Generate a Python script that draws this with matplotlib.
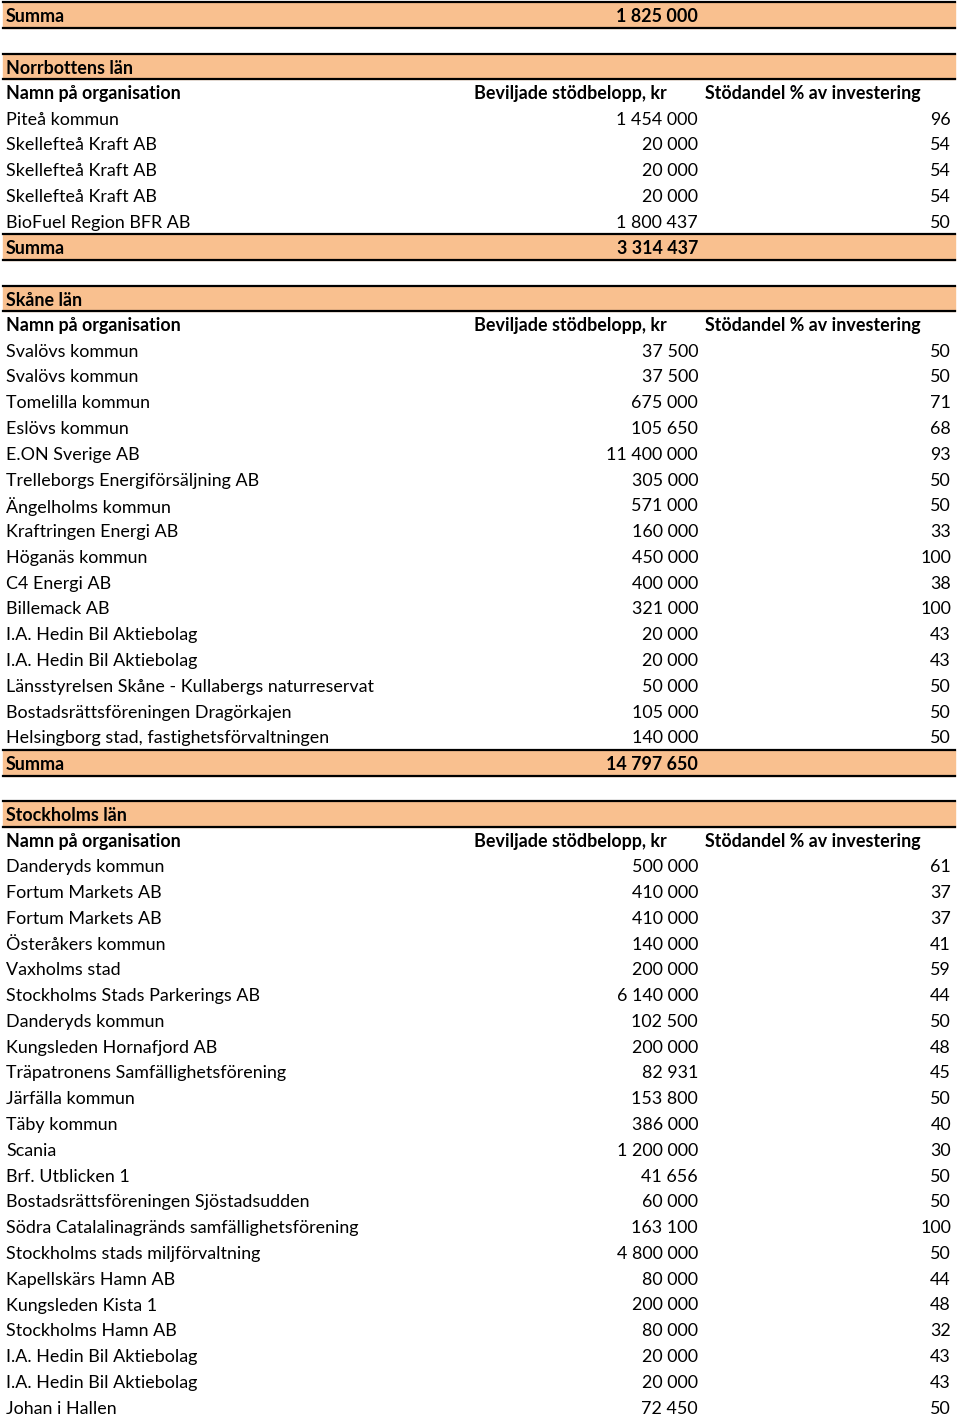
import matplotlib
matplotlib.use('Agg')
import matplotlib.pyplot as plt
from matplotlib.patches import Rectangle

plt.rcParams['font.family'] = ['Lato', 'DejaVu Sans']

# data
top_sum = '1 825 000'

header = ['Namn på organisation', 'Beviljade stödbelopp, kr', 'Stödandel % av investering']

norr_names = ['Piteå kommun', 'Skellefteå Kraft AB', 'Skellefteå Kraft AB', 'Skellefteå Kraft AB',
              'BioFuel Region BFR AB']
norr_amount = ['1 454 000', '20 000', '20 000', '20 000', '1 800 437']
norr_pct = [96, 54, 54, 54, 50]
norr_sum = '3 314 437'

skane_names = ['Svalövs kommun', 'Svalövs kommun', 'Tomelilla kommun', 'Eslövs kommun',
               'E.ON Sverige AB', 'Trelleborgs Energiförsäljning AB', 'Ängelholms kommun',
               'Kraftringen Energi AB', 'Höganäs kommun', 'C4 Energi AB', 'Billemack AB',
               'I.A. Hedin Bil Aktiebolag', 'I.A. Hedin Bil Aktiebolag',
               'Länsstyrelsen Skåne - Kullabergs naturreservat',
               'Bostadsrättsföreningen Dragörkajen', 'Helsingborg stad, fastighetsförvaltningen']
skane_amount = ['37 500', '37 500', '675 000', '105 650', '11 400 000', '305 000', '571 000',
                '160 000', '450 000', '400 000', '321 000', '20 000', '20 000', '50 000',
                '105 000', '140 000']
skane_pct = [50, 50, 71, 68, 93, 50, 50, 33, 100, 38, 100, 43, 43, 50, 50, 50]
skane_sum = '14 797 650'

sthlm_names = ['Danderyds kommun', 'Fortum Markets AB', 'Fortum Markets AB', 'Österåkers kommun',
               'Vaxholms stad', 'Stockholms Stads Parkerings AB', 'Danderyds kommun',
               'Kungsleden Hornafjord AB', 'Träpatronens Samfällighetsförening', 'Järfälla kommun',
               'Täby kommun', 'Scania', 'Brf. Utblicken 1', 'Bostadsrättsföreningen Sjöstadsudden',
               'Södra Catalalinagränds samfällighetsförening', 'Stockholms stads miljförvaltning',
               'Kapellskärs Hamn AB', 'Kungsleden Kista 1', 'Stockholms Hamn AB',
               'I.A. Hedin Bil Aktiebolag', 'I.A. Hedin Bil Aktiebolag', 'Johan i Hallen']
sthlm_amount = ['500 000', '410 000', '410 000', '140 000', '200 000', '6 140 000', '102 500',
                '200 000', '82 931', '153 800', '386 000', '1 200 000', '41 656', '60 000',
                '163 100', '4 800 000', '80 000', '200 000', '80 000', '20 000', '20 000', '72 450']
sthlm_pct = [61, 37, 37, 41, 59, 44, 50, 48, 45, 50, 40, 30, 50, 50, 100, 50, 44, 48, 32, 43, 43, 50]

# build rows: (kind, c1, c2, c3)
rows = [('sum', 'Summa', top_sum, ''), ('blank', '', '', '')]
for region, names, amts, pcts, s in [('Norrbottens län', norr_names, norr_amount, norr_pct, norr_sum),
                                      ('Skåne län', skane_names, skane_amount, skane_pct, skane_sum),
                                      ('Stockholms län', sthlm_names, sthlm_amount, sthlm_pct, None)]:
    rows.append(('region', region, '', ''))
    rows.append(('header', header[0], header[1], header[2]))
    for n, a, p in zip(names, amts, pcts):
        rows.append(('row', n, a, str(p)))
    if s is not None:
        rows.append(('sum', 'Summa', s, ''))
        rows.append(('blank', '', '', ''))

W, H = 960, 1417
fig = plt.figure(figsize=(9.6, 14.17), dpi=100)
ax = fig.add_axes([0, 0, 1, 1])
ax.set_xlim(0, W)
ax.set_ylim(H, 0)
ax.axis('off')

pitch = 25.78
y0 = 15
orange = '#F9C08F'
fs = 12.9

for i, (kind, c1, c2, c3) in enumerate(rows):
    y = y0 + i * pitch
    if kind == 'blank':
        continue
    if kind in ('sum', 'region'):
        ax.add_patch(Rectangle((3, y - pitch / 2), 952, pitch, color=orange, zorder=1))
        ax.plot([3, 955], [y - pitch / 2, y - pitch / 2], color='black', lw=1.6, zorder=2)
        ax.plot([3, 955], [y + pitch / 2, y + pitch / 2], color='black', lw=1.6, zorder=2)
    ty = y + 1.5
    fw = 'normal' if kind == 'row' else 'bold'
    ax.text(6, ty, c1, ha='left', va='center', fontsize=fs, fontweight=fw, zorder=3)
    if kind == 'header':
        ax.text(474, ty, c2, ha='left', va='center', fontsize=fs, fontweight=fw, zorder=3)
        ax.text(705, ty, c3, ha='left', va='center', fontsize=fs, fontweight=fw, zorder=3)
    else:
        ax.text(698, ty, c2, ha='right', va='center', fontsize=fs, fontweight=fw, zorder=3)
        ax.text(951, ty, c3, ha='right', va='center', fontsize=fs, fontweight=fw, zorder=3)

fig.savefig('out.png', dpi=100)
